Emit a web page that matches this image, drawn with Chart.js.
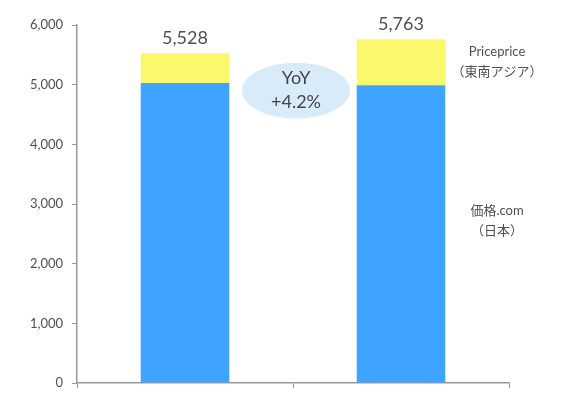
<!DOCTYPE html>
<html>
<head>
<meta charset="utf-8">
<script src="https://cdn.jsdelivr.net/npm/chart.js@4.4.1/dist/chart.umd.min.js"></script>
<style>
  html, body { margin: 0; padding: 0; background: #fff; }
  #wrap { width: 561px; height: 395px; position: relative; }
</style>
</head>
<body>
<div id="wrap"><canvas id="chart"></canvas></div>
<script>
// Data
const categories = ["2017", "2018"];
const japanValues = [5030, 4990];      // 価格.com（日本）
const seaValues = [498, 773];          // Priceprice（東南アジア）
const totalLabels = ["5,528", "5,763"];
const yoyLines = ["YoY", "+4.2%"];
const seriesNames = [["価格.com", "（日本）"], ["Priceprice", "（東南アジア）"]];

const FONT = "Lato, 'Noto Sans CJK JP', sans-serif";
const TEXT = "#505050";

// Totals, YoY bubble and series names drawn on top
const annotations = {
  id: "annotations",
  afterDatasetsDraw(chart) {
    const ctx = chart.ctx;
    const x = chart.scales.x;
    const y = chart.scales.y;
    ctx.save();
    ctx.fillStyle = TEXT;
    ctx.textAlign = "center";
    ctx.textBaseline = "bottom";
    ctx.font = "18px " + FONT;
    categories.forEach((c, i) => {
      const top = y.getPixelForValue(japanValues[i] + seaValues[i]);
      ctx.fillText(totalLabels[i], x.getPixelForValue(i), top - 6);
    });

    // YoY ellipse between the bars
    const mid = (x.getPixelForValue(0) + x.getPixelForValue(1)) / 2 + 3;
    const cy = y.getPixelForValue(4900);
    ctx.fillStyle = "#d8ebf8";
    ctx.beginPath();
    ctx.ellipse(mid, cy, 54, 28, 0, 0, Math.PI * 2);
    ctx.fill();
    ctx.fillStyle = "#454545";
    ctx.textBaseline = "middle";
    ctx.fillText(yoyLines[0], mid, cy - 12);
    ctx.fillText(yoyLines[1], mid, cy + 12);

    // series names on the right
    ctx.fillStyle = TEXT;
    ctx.font = "13px " + FONT;
    const lx = x.getPixelForValue(1) + 96;
    const seaY = y.getPixelForValue(5380);
    ctx.fillText(seriesNames[1][0], lx, seaY - 10);
    ctx.fillText(seriesNames[1][1], lx, seaY + 10);
    const jpY = y.getPixelForValue(2720);
    ctx.fillText(seriesNames[0][0], lx, jpY - 10);
    ctx.fillText(seriesNames[0][1], lx, jpY + 10);
    ctx.restore();
  }
};

new Chart(document.getElementById("chart"), {
  type: "bar",
  data: {
    labels: categories,
    datasets: [
      {
        label: "価格.com（日本）",
        data: japanValues,
        backgroundColor: "#3fa4ff",
        barPercentage: 0.41,
        categoryPercentage: 1
      },
      {
        label: "Priceprice（東南アジア）",
        data: seaValues,
        backgroundColor: "#fbf86e",
        barPercentage: 0.41,
        categoryPercentage: 1
      }
    ]
  },
  options: {
    responsive: true,
    maintainAspectRatio: false,
    animation: false,
    devicePixelRatio: 1,
    layout: { padding: { top: 25, right: 52, bottom: 0, left: 0 } },
    plugins: {
      legend: { display: false },
      tooltip: { enabled: false }
    },
    scales: {
      x: {
        stacked: true,
        afterFit: (s) => { s.height = 12; },
        border: { color: "#9a9a9a", width: 1.5 },
        grid: {
          offset: true,
          drawOnChartArea: false,
          drawTicks: true,
          tickLength: 5,
          color: "#9a9a9a"
        },
        ticks: { display: false }
      },
      y: {
        stacked: true,
        min: 0,
        max: 6000,
        afterFit: (s) => {
          s.width = 77;
          s.paddingBottom = 0;
        },
        border: { color: "#9a9a9a", width: 1.5 },
        grid: {
          drawOnChartArea: false,
          tickLength: 5,
          color: "#9a9a9a"
        },
        ticks: {
          stepSize: 1000,
          padding: 9,
          color: TEXT,
          font: { family: FONT, size: 13 },
          callback: (v) => v.toLocaleString("en-US")
        }
      }
    }
  },
  plugins: [annotations]
});
</script>
</body>
</html>
